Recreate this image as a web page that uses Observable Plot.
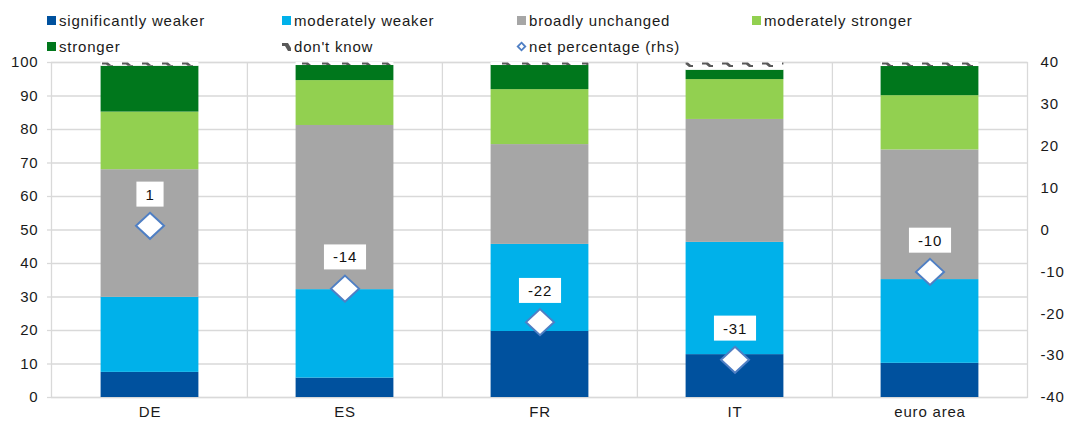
<!DOCTYPE html>
<html>
<head>
<meta charset="utf-8">
<script src="https://cdn.jsdelivr.net/npm/d3@7"></script>
<script src="https://cdn.jsdelivr.net/npm/@observablehq/plot@0.6"></script>
<style>
  body { margin: 0; background: #fff; font-family: "Liberation Sans", Arial, sans-serif; color: #1a1a1a; }
  #legend { position: relative; height: 52px; width: 1066px; }
  #legend .grid { position: absolute; left: 47px; top: 7px; display: grid; grid-template-columns: repeat(4, 235px); grid-auto-rows: 26px; }
  #legend .item { display: flex; align-items: center; font-size: 15px; letter-spacing: 0.8px; white-space: nowrap; }
  #legend .sw { width: 9px; height: 9px; margin-right: 3px; flex: none; }
  #legend svg.sw { overflow: visible; }
  #chart svg text { letter-spacing: 0.8px; }
</style>
</head>
<body>
<div id="legend"><div class="grid"></div></div>
<div id="chart"></div>
<script>
// ---- data ----
const categories = ["DE", "ES", "FR", "IT", "euro area"];
const seriesNames = ["significantly weaker", "moderately weaker", "broadly unchanged", "moderately stronger", "stronger", "don't know"];
const significantlyWeaker = [7.5, 5.8, 19.7, 12.8, 10.2];
const moderatelyWeaker   = [22.4, 26.4, 26.0, 33.5, 25.0];
const broadlyUnchanged   = [38.1, 49.0, 29.8, 36.7, 38.7];
const moderatelyStronger = [17.2, 13.4, 16.4, 11.9, 16.2];
const strongerVals       = [13.7, 4.5, 7.2, 2.8, 8.7];
const dontKnow           = [1.1, 0.9, 0.9, 2.3, 1.2];
const netPercentage      = [1, -14, -22, -31, -10];
const leftTicks = [0, 10, 20, 30, 40, 50, 60, 70, 80, 90, 100];
const rightTicks = [-40, -30, -20, -10, 0, 10, 20, 30, 40];

const seriesColors = ["#00519e", "#00b1ea", "#a6a6a6", "#92d050", "#00771c", "url(#dkpat)"];
const seriesValues = [significantlyWeaker, moderatelyWeaker, broadlyUnchanged, moderatelyStronger, strongerVals, dontKnow];

const rows = [];
seriesNames.forEach((s, i) => categories.forEach((c, j) => rows.push({cat: c, series: s, value: seriesValues[i][j]})));
const netRows = categories.map((c, j) => ({cat: c, net: netPercentage[j]}));

// right axis (-40..40) mapped onto left scale (0..100)
const toLeft = v => (v + 40) * 100 / 80;

// ---- legend ----
const legendOrder = [
  {name: "significantly weaker", kind: "sq", color: seriesColors[0]},
  {name: "moderately weaker", kind: "sq", color: seriesColors[1]},
  {name: "broadly unchanged", kind: "sq", color: seriesColors[2]},
  {name: "moderately stronger", kind: "sq", color: seriesColors[3]},
  {name: "stronger", kind: "sq", color: seriesColors[4]},
  {name: "don't know", kind: "dk"},
  {name: "net percentage (rhs)", kind: "dia"}
];
const lg = document.querySelector("#legend .grid");
for (const it of legendOrder) {
  const d = document.createElement("div");
  d.className = "item";
  let sw;
  if (it.kind === "sq") {
    sw = `<span class="sw" style="background:${it.color}"></span>`;
  } else if (it.kind === "dk") {
    sw = `<svg class="sw" viewBox="0 0 9 9"><polygon points="0,1 6,1 9,6 9,9 6,9 3,4 0,4" fill="#5a5a5a"/></svg>`;
  } else {
    sw = `<svg class="sw" viewBox="0 0 10 10"><polygon points="5,0.8 9.2,5 5,9.2 0.8,5" fill="#fff" stroke="#4f7fc4" stroke-width="2"/></svg>`;
  }
  d.innerHTML = sw + `<span>${it.name}</span>`;
  lg.appendChild(d);
}

// ---- chart ----
const W = 1066, H = 369, mL = 51, mR = 39, mT = 10, mB = 24;
const bw = (W - mL - mR) / categories.length;
const inset = (bw - 98) / 2;
const gridColor = "#d9d9d9";

const diamond = {
  draw(ctx, size) {
    const hw = 14, hh = 13;
    ctx.moveTo(0, -hh); ctx.lineTo(hw, 0); ctx.lineTo(0, hh); ctx.lineTo(-hw, 0); ctx.closePath();
  }
};

const plot = Plot.plot({
  width: W, height: H,
  marginLeft: mL, marginRight: mR, marginTop: mT, marginBottom: mB,
  style: {fontFamily: "'Liberation Sans', Arial, sans-serif", fontSize: "15px", color: "#1a1a1a", background: "#fff"},
  x: {domain: categories, padding: 0, label: null},
  y: {domain: [0, 100], label: null},
  color: {domain: seriesNames, range: seriesColors},
  marks: [
    Plot.ruleY(leftTicks, {stroke: gridColor, strokeWidth: 1.3}),
    Plot.ruleX(categories.slice(1), {x: d => d, dx: -bw / 2, stroke: gridColor, strokeWidth: 1.3}),
    Plot.frame({stroke: gridColor, strokeWidth: 1.3}),
    Plot.barY(rows, {x: "cat", y: "value", fill: "series", insetLeft: inset, insetRight: inset}),
    Plot.axisY(leftTicks, {anchor: "left", tickSize: 4, stroke: gridColor, strokeWidth: 1.3, tickPadding: 9, fontSize: 15, label: null}),
    Plot.axisY(rightTicks.map(toLeft), {anchor: "right", tickSize: 0, tickPadding: 13, fontSize: 15, label: null,
      tickFormat: v => String(Math.round(v * 80 / 100 - 40))}),
    Plot.axisX({tickSize: 0, tickPadding: 9, fontSize: 15, label: null}),
    Plot.dot(netRows, {x: "cat", y: d => toLeft(d.net), symbol: diamond, fill: "white", stroke: "#4f7fc4", strokeWidth: 2}),
    Plot.text(netRows, {x: "cat", y: d => toLeft(d.net), dy: -31, text: d => String(d.net), fontSize: 15, fill: "#111", className: "netlab"})
  ]
});

document.getElementById("chart").appendChild(plot);

// pattern for "don't know"
const ns = "http://www.w3.org/2000/svg";
const defs = document.createElementNS(ns, "defs");
defs.innerHTML = `<pattern id="dkpat" patternUnits="userSpaceOnUse" x="0" y="${mT}" width="20" height="8">
  <rect width="20" height="8" fill="#fff"/>
  <polygon points="2,0.5 8,0.5 11,3 13,3 13,5 9,5 6,2.5 2,2.5" fill="#5a5a5a"/>
</pattern>`;
plot.insertBefore(defs, plot.firstChild);

// white boxes behind the net labels
for (const g of plot.querySelectorAll("g.netlab")) {
  for (const t of g.querySelectorAll("text")) {
    const b = t.getBBox();
    const r = document.createElementNS(ns, "rect");
    const pw = 9, h = 25;
    r.setAttribute("x", b.x - pw);
    r.setAttribute("y", b.y + b.height / 2 - h / 2);
    r.setAttribute("width", b.width + 2 * pw);
    r.setAttribute("height", h);
    r.setAttribute("fill", "#fff");
    if (t.getAttribute("transform")) r.setAttribute("transform", t.getAttribute("transform"));
    t.parentNode.insertBefore(r, t);
  }
}
</script>
</body>
</html>
